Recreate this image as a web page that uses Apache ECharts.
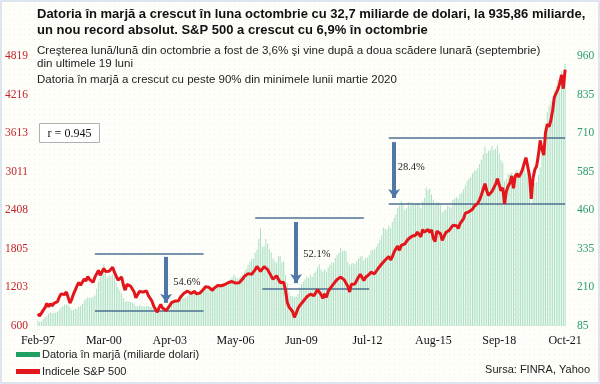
<!DOCTYPE html>
<html>
<head>
<meta charset="utf-8">
<script src="https://cdn.jsdelivr.net/npm/echarts@6/dist/echarts.min.js"></script>
<style>
html,body{margin:0;padding:0;}
#wrap{width:600px;height:384px;box-sizing:border-box;border:2px solid #dde6ef;
background-color:#fefefa;
background-image:radial-gradient(#f3efd2 0.8px, transparent 0.9px);
background-size:5px 5px;}
#chart{width:596px;height:380px;}
</style>
</head>
<body>
<div id="wrap"><div id="chart"></div></div>
<script>
// ---- data ----
const startYear = 1997, startMonth = 2; // Feb-97
const tickLabels = ['Feb-97','Mar-00','Apr-03','May-06','Jun-09','Jul-12','Aug-15','Sep-18','Oct-21'];
const leftTicks = [600,1203,1805,2408,3011,3613,4216,4819];
const rightTicks = [85,210,335,460,585,710,835,960];

// S&P 500 monthly (Feb-97 .. Oct-21)
const sp500 = [
790,757,801,848,885,954,899,947,915,955,970,
980,1049,1102,1112,1091,1134,1121,957,1017,1099,1164,1229,
1280,1238,1286,1335,1302,1373,1329,1320,1283,1363,1389,1469,
1394,1366,1499,1452,1421,1455,1431,1518,1437,1429,1315,1320,
1366,1240,1160,1249,1256,1224,1211,1134,1041,1060,1139,1148,
1130,1107,1147,1077,1067,990,912,916,815,886,936,880,
856,841,848,917,964,975,990,1008,996,1051,1058,1112,
1131,1145,1126,1107,1121,1141,1102,1104,1115,1130,1174,1212,
1181,1204,1181,1157,1192,1191,1234,1220,1229,1207,1249,1248,
1280,1281,1295,1311,1270,1270,1277,1304,1336,1378,1401,1418,
1438,1407,1421,1482,1531,1503,1455,1474,1527,1549,1481,1468,
1379,1331,1323,1386,1400,1280,1267,1283,1166,969,896,903,
826,735,798,873,919,919,987,1021,1057,1036,1096,1115,
1074,1104,1169,1187,1089,1031,1102,1049,1141,1183,1181,1258,
1286,1327,1326,1364,1345,1321,1292,1219,1131,1253,1247,1258,
1312,1366,1408,1398,1310,1362,1379,1407,1441,1412,1416,1426,
1498,1515,1569,1598,1631,1606,1686,1633,1682,1757,1806,1848,
1783,1859,1872,1884,1924,1960,1931,2003,1972,2018,2068,2059,
1995,2105,2068,2086,2107,2063,2104,1972,1920,2079,2080,2044,
1940,1932,2060,2065,2097,2099,2174,2171,2168,2126,2199,2239,
2279,2364,2363,2384,2412,2423,2470,2472,2519,2575,2648,2674,
2824,2714,2641,2648,2705,2718,2816,2902,2914,2712,2760,2507,
2704,2784,2834,2946,2752,2942,2980,2926,2977,3038,3141,3231,
3226,2954,2585,2912,3044,3100,3271,3500,3363,3270,3622,3756,
3714,3811,3973,4181,4204,4298,4395,4523,4308,4605
];

// Margin debt, billions USD (Feb-97 .. Oct-21)
const marginDebt = [
102,99,100,107,113,118,124,129,126,128,128,
131,137,146,150,154,155,154,146,137,136,141,140,
148,150,156,166,172,178,176,177,180,184,206,229,
244,266,285,255,243,250,248,253,247,226,210,200,
190,175,163,166,165,163,162,159,150,149,152,151,
149,148,150,149,148,147,142,139,136,135,137,135,
135,134,139,145,153,161,164,168,173,174,177,175,
179,184,189,192,191,196,195,194,197,197,202,205,
203,204,212,211,210,213,217,213,218,216,223,224,
229,236,242,252,243,238,241,247,251,262,270,283,
293,302,303,323,332,366,402,342,343,367,352,332,
323,304,296,290,311,312,292,296,250,225,196,182,
181,180,181,189,210,220,228,236,245,242,250,245,
256,262,275,284,268,262,268,262,275,283,292,290,
305,315,322,338,328,330,328,293,282,287,289,285,
295,304,310,311,298,305,307,314,329,332,333,342,
352,363,379,404,399,398,410,402,422,435,446,467,
475,490,481,461,468,488,475,487,478,481,481,481,
467,489,501,534,525,531,511,494,476,486,485,477,
453,459,462,475,473,469,494,498,502,498,512,518,
529,540,556,563,567,580,589,590,597,610,624,642,
666,646,652,656,669,655,659,670,644,622,615,554,
562,579,577,583,556,573,590,582,581,589,598,579,
597,545,479,524,549,552,574,599,658,667,723,778,
799,814,822,847,862,882,844,911,904,936
];

// annotation guides (category index, value on margin-debt scale)
const guideLines = [
  [[32,318],[93,318]], [[32,134],[93,134]],
  [[122,435],[183,435]], [[126,205],[186,205]],
  [[197,694],[296,694]], [[197,480],[296,480]]
];
const guideArrows = [ [[72,309],[72,160]], [[145,422],[145,224]], [[200,681],[200,500]] ];
const guideTexts = [ [76,228,'54.6%'], [149,318,'52.1%'], [202,600,'28.4%'] ];

// ---- build ----
const monthNames = ['Jan','Feb','Mar','Apr','May','Jun','Jul','Aug','Sep','Oct','Nov','Dec'];
const categories = [];
for (let i = 0; i < sp500.length; i++) {
  const m = (startMonth - 1 + i) % 12;
  const y = startYear + Math.floor((startMonth - 1 + i) / 12);
  categories.push(monthNames[m] + '-' + String(y % 100).padStart(2, '0'));
}

const chart = echarts.init(document.getElementById('chart'));
const sans = 'Liberation Sans, Arial, sans-serif';
const serif = 'Liberation Serif, Times New Roman, serif';

chart.setOption({
  backgroundColor: 'transparent',
  animation: false,
  title: [
    { text: 'Datoria în marjă a crescut în luna octombrie cu 32,7 miliarde de dolari, la 935,86 miliarde,\nun nou record absolut. S&P 500 a crescut cu 6,9% în octombrie',
      left: 35, top: 4, padding: 0,
      textStyle: { fontFamily: sans, fontSize: 13, fontWeight: 'bold', color: '#111', lineHeight: 16 } },
    { text: 'Creşterea lună/lună din octombrie a fost de 3,6% şi vine după a doua scădere lunară (septembrie)\ndin ultimele 19 luni',
      left: 35, top: 42, padding: 0,
      textStyle: { fontFamily: sans, fontSize: 11.6, fontWeight: 'normal', color: '#222', lineHeight: 13 } },
    { text: 'Datoria în marjă a crescut cu peste 90% din minimele lunii martie 2020',
      left: 35, top: 72, padding: 0,
      textStyle: { fontFamily: sans, fontSize: 11.5, fontWeight: 'normal', color: '#222' } },
    { text: 'Sursa: FINRA, Yahoo', right: 8, top: 362, padding: 0,
      textStyle: { fontFamily: sans, fontSize: 11, fontWeight: 'normal', color: '#222' } }
  ],
  legend: {
    orient: 'vertical', left: 14, top: 347, itemWidth: 24, itemHeight: 5, itemGap: 6,
    icon: 'rect', padding: 0,
    textStyle: { fontFamily: sans, fontSize: 11, color: '#222', padding: [0, 0, 0, -3] },
    data: [
      { name: 'Datoria în marjă (miliarde dolari)', itemStyle: { color: '#1fa060' } },
      { name: 'Indicele S&P 500', itemStyle: { color: '#e3161c' } }
    ]
  },
  grid: { left: 34, right: 32, top: 54, bottom: 56 },
  xAxis: {
    type: 'category', data: categories, boundaryGap: true,
    axisLine: { show: false }, axisTick: { show: false },
    axisLabel: { interval: 36, margin: 9, fontFamily: serif, fontSize: 12, color: '#111',
      formatter: (v) => tickLabels.includes(v) ? v : '' }
  },
  yAxis: [
    { type: 'value', min: 600, max: 4819, show: false },
    { type: 'value', min: 85, max: 960, show: false },
    { type: 'value', min: 0, max: 7, interval: 1, position: 'left',
      axisLine: { show: false }, axisTick: { show: false }, splitLine: { show: false },
      axisLabel: { margin: 9, fontFamily: serif, fontSize: 11.5, color: '#c0262e',
        formatter: (v) => String(leftTicks[v]) } },
    { type: 'value', min: 0, max: 7, interval: 1, position: 'right',
      axisLine: { show: false }, axisTick: { show: false }, splitLine: { show: false },
      axisLabel: { margin: 11, fontFamily: serif, fontSize: 11.5, color: '#2a9d6c',
        formatter: (v) => String(rightTicks[v]) } }
  ],
  series: [
    { name: 'Datoria în marjă (miliarde dolari)', type: 'bar', yAxisIndex: 1,
      data: marginDebt, barWidth: 1, itemStyle: { color: '#abe0c3' }, silent: true,
      markLine: {
        silent: true, symbol: 'none', animation: false,
        label: { show: false },
        data: guideLines.map(l => [
          { coord: [categories[l[0][0]], l[0][1]], lineStyle: { color: '#4c7090', width: 1.6, type: 'solid' } },
          { coord: [categories[l[1][0]], l[1][1]] }
        ]).concat(guideArrows.map(a => [
          { coord: [categories[a[0][0]], a[0][1]], symbol: 'none',
            lineStyle: { color: '#4f78a8', width: 4, type: 'solid' } },
          { coord: [categories[a[1][0]], a[1][1]], symbol: 'arrow', symbolSize: [9, 9] }
        ]))
      },
      markPoint: {
        silent: true, symbolSize: 0,
        label: { show: true, position: 'right', distance: 0, formatter: '{b}',
          fontFamily: serif, fontSize: 10.5, color: '#222' },
        data: guideTexts.map(t => ({ name: t[2], coord: [categories[t[0]], t[1]] }))
      }
    },
    { name: 'Indicele S&P 500', type: 'line', yAxisIndex: 0, data: sp500,
      symbol: 'none', lineStyle: { color: '#e3161c', width: 3 }, itemStyle: { color: '#e3161c' }, z: 5 }
  ],
  graphic: [
    { type: 'group', left: 37, top: 121, children: [
      { type: 'rect', shape: { x: 0, y: 0, width: 60, height: 19 },
        style: { fill: '#fff', stroke: '#b0b0b0', lineWidth: 1 } },
      { type: 'text', x: 30, y: 10, style: { text: 'r = 0.945', font: '12px Liberation Serif',
        fill: '#111', textAlign: 'center', textVerticalAlign: 'middle' } }
    ] }
  ]
});
</script>
</body>
</html>
